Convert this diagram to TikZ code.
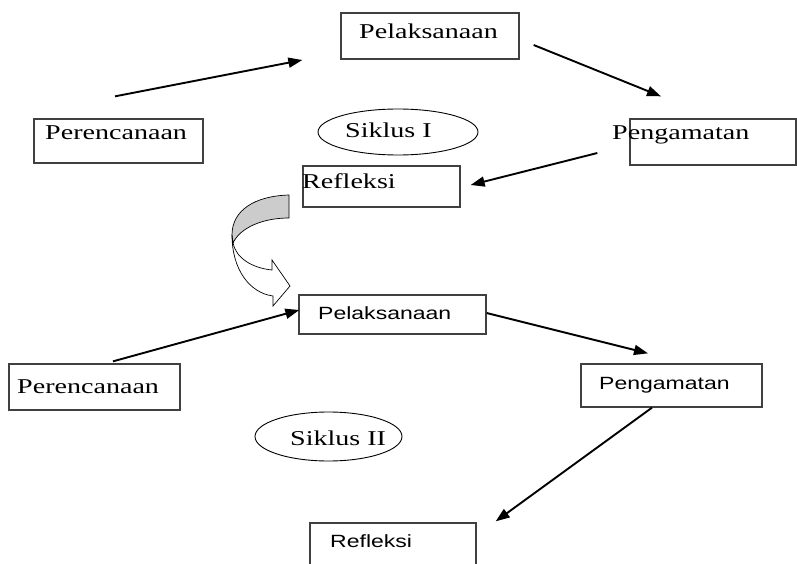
\documentclass[tikz,border=0pt]{standalone}
\usepackage{fontspec}
\setmainfont{Liberation Serif}[FakeStretch=1.33]
\newfontfamily\stepsans{Liberation Sans}[FakeStretch=1.3]
\usetikzlibrary{arrows.meta,positioning,shapes.geometric,calc}
\definecolor{boxline}{RGB}{64,64,64}

\begin{document}
\begin{tikzpicture}[x=1pt, y=-1pt,
  stagebox/.style={draw=boxline, line width=1.3pt, inner sep=0pt},
  cycleoval/.style={draw, ellipse, line width=0.9pt, inner sep=0pt},
  serlabel/.style={anchor=base west, inner sep=0pt, font=\fontsize{21.1}{24}\selectfont},
  sanlabel/.style={anchor=base west, inner sep=0pt, font=\stepsans\fontsize{17.7}{21}\selectfont},
  flow/.style={-{Triangle[length=14pt,width=10pt]}, line width=1.9pt}]
  \clip (0,0) rectangle (797,564);
  % Siklus I
  \node[stagebox, minimum width=178, minimum height=46] (pel1) at (430,36) {};
  \node[stagebox, minimum width=169, minimum height=44] (per1) at (118.5,141) {};
  \node[stagebox, minimum width=166, minimum height=46] (pen1) at (713,142) {};
  \node[stagebox, minimum width=157, minimum height=41] (ref1) at (381.5,186.5) {};
  \node[cycleoval, minimum width=160, minimum height=46] (sik1) at (398,132) {};
  \node[serlabel] (pel1txt) at (359,39) {Pelaksanaan};
  \node[serlabel] (per1txt) at (45,140) {Perencanaan};
  \node[serlabel] (pen1txt) at (612,140) {Pengamatan};
  \node[serlabel] (ref1txt) at (302,189) {Refleksi};
  \node[serlabel] (sik1txt) at (345,138) {Siklus I};
  \draw[flow] ([xshift=-3.5pt,yshift=22pt]per1.north) -- ([xshift=-38pt,yshift=-24pt]pel1.west);
  \draw[flow] ([xshift=14pt,yshift=-9pt]pel1.east) -- ([xshift=-52pt,yshift=22pt]pen1.north);
  \draw[flow] ([xshift=-32pt,yshift=-11pt]pen1.west) -- ([xshift=10pt,yshift=1.5pt]ref1.east);
  % curved arrow to the next cycle
  \draw[line width=0.7pt, fill=gray!40] (289,195) .. controls (255,196) and (232,210) .. (232,235)
    -- (233,243) .. controls (240,228) and (262,218) .. (289,218) -- cycle;
  \draw[line width=0.7pt, fill=white] (232,235) .. controls (232,270) and (250,293) .. (273,296)
    -- (273,306) -- (290,286) -- (272,260) -- (272,270)
    .. controls (252,268) and (236,258) .. (233,243) -- cycle;
  % Siklus II
  \node[stagebox, minimum width=187, minimum height=39] (pel2) at (392.5,314.5) {};
  \node[stagebox, minimum width=171, minimum height=46] (per2) at (94.5,387) {};
  \node[stagebox, minimum width=181, minimum height=43] (pen2) at (671.5,385.5) {};
  \node[stagebox, minimum width=166, minimum height=60] (ref2) at (393,553) {};
  \node[cycleoval, minimum width=147, minimum height=49] (sik2) at (328.5,436.5) {};
  \node[sanlabel] (pel2txt) at (318,319) {Pelaksanaan};
  \node[serlabel] (per2txt) at (17,393) {Perencanaan};
  \node[sanlabel] (pen2txt) at (599,389) {Pengamatan};
  \node[serlabel] (sik2txt) at (290,445) {Siklus II};
  \node[sanlabel] (ref2txt) at (330,547) {Refleksi};
  \draw[flow] ([xshift=18.5pt,yshift=2pt]per2.north) -- ([xshift=1pt,yshift=4.5pt]pel2.west);
  \draw[flow] ([yshift=1.5pt]pel2.east) -- ([xshift=-23.5pt,yshift=10pt]pen2.north);
  \draw[flow] ([xshift=-19.5pt]pen2.south) -- ([xshift=19pt,yshift=1pt]ref2.north east);
\end{tikzpicture}
\end{document}
